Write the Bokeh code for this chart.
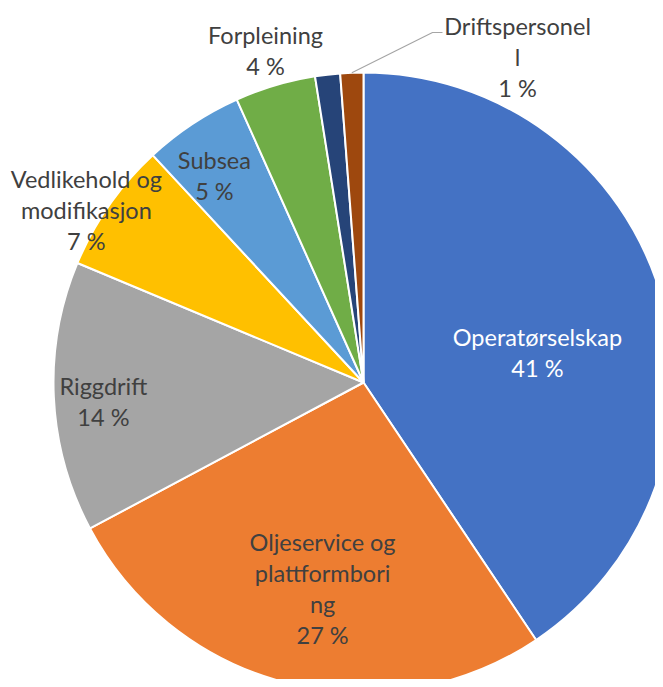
import math
from bokeh.plotting import figure
from bokeh.models import ColumnDataSource, Range1d
from bokeh.embed import file_html
from bokeh.resources import INLINE
from bokeh.core.properties import value

# ---- data ----
categories = ["Operatørselskap", "Oljeservice og plattformboring", "Riggdrift",
              "Vedlikehold og modifikasjon", "Subsea", "Forpleining", "Annet",
              "Driftspersonell"]
shares = [40.6, 26.6, 14.1, 6.8, 5.2, 4.2, 1.3, 1.2]
colors = ["#4472C4", "#ED7D31", "#A5A5A5", "#FFC000", "#5B9BD5", "#70AD47",
          "#264478", "#9E480E"]
# wrapped label lines as displayed (None = no label)
label_lines = [["Operatørselskap"], ["Oljeservice og", "plattformbori", "ng"],
               ["Riggdrift"], ["Vedlikehold og", "modifikasjon"], ["Subsea"],
               ["Forpleining"], None, ["Driftspersonel", "l"]]

# ---- layout (pie radius = 1) ----
label_pos = [(0.561, 0.097), (-0.132, -0.666), (-0.839, -0.060), (-0.894, 0.555),
             (-0.481, 0.669), (-0.316, 1.071), None, (0.497, 1.050)]
label_col = ["#FFFFFF", "#404040", "#404040", "#404040", "#404040", "#404040",
             None, "#404040"]
LH = 31 / 310.0

total = sum(shares)
starts, ends = [], []
cum = 0.0
for s in shares:
    a0 = math.pi / 2 - 2 * math.pi * cum / total
    cum += s
    a1 = math.pi / 2 - 2 * math.pi * cum / total
    starts.append(a1)
    ends.append(a0)

src = ColumnDataSource(dict(cat=categories, share=shares, color=colors,
                            start=starts, end=ends))

W, H = 655, 679
CX, CY, R = 363, 382, 310
p = figure(width=W, height=H, output_backend="svg", toolbar_location=None,
           x_range=Range1d((0 - CX) / R, (W - CX) / R),
           y_range=Range1d((CY - H) / R, (CY - 0) / R),
           min_border=0, outline_line_color=None)
p.axis.visible = False
p.grid.visible = False
p.background_fill_color = "white"
p.border_fill_color = "white"

p.wedge(x=0, y=0, radius=1, start_angle="start", end_angle="end",
        direction="anticlock", fill_color="color", line_color="white",
        line_width=2, source=src)

# leader line for the last slice
mid = (starts[-1] + ends[-1]) / 2
lx = [math.cos(mid), 0.2226, 0.2548]
ly = [math.sin(mid), 1.129, 1.129]
p.line(lx, ly, line_color="#A6A6A6", line_width=1.2)

tx, ty, tt, tc = [], [], [], []
for i, lines in enumerate(label_lines):
    if lines is None:
        continue
    all_lines = lines + [f"{round(shares[i] / total * 100)} %"]
    cx, cy = label_pos[i]
    n = len(all_lines)
    for j, t in enumerate(all_lines):
        tx.append(cx)
        ty.append(cy + (n - 1) / 2 * LH - j * LH)
        tt.append(t)
        tc.append(label_col[i])

p.text(x=tx, y=ty, text=tt, text_color=tc, text_align="center",
       text_baseline="middle", text_font=value("Lato"), text_font_size="23.5px")

open("out.html", "w").write(file_html(p, INLINE))
